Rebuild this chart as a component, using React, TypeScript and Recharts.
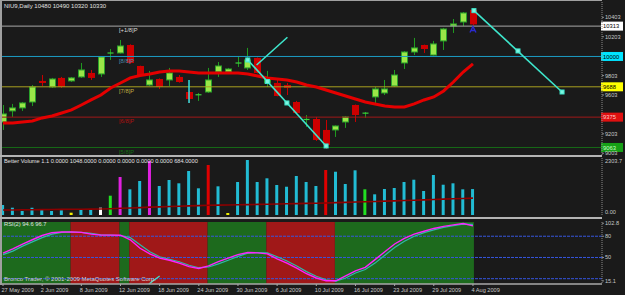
import React from 'react';
import { ComposedChart, Bar, Line, XAxis, YAxis, ReferenceLine, ReferenceArea, ReferenceDot, Cell } from 'recharts';

// ---------- data ----------
const dateLabels = ['27 May 2009', '2 Jun 2009', '8 Jun 2009', '12 Jun 2009', '18 Jun 2009', '24 Jun 2009', '30 Jun 2009', '6 Jul 2009', '10 Jul 2009', '16 Jul 2009', '23 Jul 2009', '29 Jul 2009', '4 Aug 2009'];
const dateTickBars = [0, 4, 8, 12, 16, 20, 24, 28, 32, 36, 40, 44, 48];

const opens = [9325, 9439, 9470, 9531, 9748, 9686, 9779, 9748, 9789, 9830, 9820, 10033, 10036, 10118, 9902, 9706, 9768, 9758, 9789, 9634, 9603, 9634, 9840, 9840, 9930, 9882, 9985, 9727, 9727, 9706, 9531, 9349, 9356, 9243, 9243, 9325, 9500, 9414, 9583, 9624, 9696, 9933, 10046, 10118, 10015, 10160, 10314, 10355, 10480];
const highs = [9500, 9511, 9531, 9706, 9809, 9779, 9789, 9789, 9933, 9861, 10005, 10077, 10170, 10125, 9905, 9851, 9775, 9882, 9809, 9645, 9624, 9882, 9943, 9882, 9995, 10088, 9990, 9851, 9758, 9727, 9542, 9397, 9377, 9346, 9290, 9387, 9505, 9428, 9686, 9758, 9861, 10056, 10191, 10122, 10160, 10294, 10386, 10458, 10490];
const lows = [9243, 9377, 9439, 9490, 9696, 9676, 9676, 9737, 9779, 9758, 9789, 9964, 10030, 9923, 9799, 9696, 9665, 9696, 9730, 9521, 9542, 9624, 9789, 9830, 9892, 9861, 9825, 9686, 9590, 9603, 9408, 9274, 9130, 9047, 9171, 9264, 9325, 9367, 9521, 9603, 9686, 9871, 10015, 10036, 10010, 10067, 10242, 10314, 10320];
const closes = [9408, 9470, 9521, 9686, 9727, 9768, 9686, 9779, 9861, 9779, 9995, 10038, 10108, 9933, 9809, 9758, 9686, 9830, 9737, 9562, 9608, 9758, 9902, 9871, 9935, 9964, 9830, 9779, 9593, 9676, 9418, 9353, 9140, 9088, 9284, 9377, 9397, 9418, 9665, 9665, 9809, 10046, 10088, 10077, 10129, 10283, 10335, 10448, 10330];
const maLine = [9315, 9315, 9325, 9336, 9367, 9387, 9418, 9449, 9500, 9552, 9603, 9676, 9727, 9779, 9804, 9820, 9840, 9851, 9851, 9840, 9830, 9830, 9830, 9830, 9830, 9820, 9799, 9779, 9768, 9758, 9737, 9706, 9686, 9655, 9624, 9593, 9562, 9531, 9511, 9490, 9480, 9480, 9511, 9552, 9583, 9645, 9737, 9840, 9923];

const volumes = [404, 295, 162, 295, 214, 162, 190, 93, 214, 214, 295, 780, 1535, 1038, 1374, 2182, 1172, 1414, 1281, 1778, 1079, 2020, 1159, 81, 1333, 2222, 1333, 1483, 1212, 1143, 1576, 1333, 1172, 1818, 1749, 1252, 1806, 1038, 836, 1050, 1091, 1333, 1426, 970, 1616, 1224, 1281, 1038, 1048];
const volumeKinds = ['c', 'c', 'c', 'c', 'c', 'c', 'c', 'y', 'c', 'c', 'w', 'g', 'm', 'c', 'c', 'm', 'c', 'c', 'c', 'c', 'c', 'r', 'c', 'y', 'c', 'c', 'c', 'c', 'c', 'c', 'c', 'c', 'c', 'r', 'c', 'c', 'c', 'g', 'c', 'c', 'c', 'c', 'c', 'c', 'c', 'c', 'c', 'c', 'c'];
const volumeAvg = [200, 205, 210, 213, 218, 222, 226, 230, 234, 238, 242, 255, 270, 285, 300, 318, 330, 342, 355, 368, 380, 392, 398, 405, 412, 420, 428, 436, 444, 452, 460, 468, 477, 488, 500, 512, 524, 536, 548, 560, 572, 585, 598, 612, 626, 640, 654, 668, 684];

const rsiMain = [56, 62, 69, 75, 81, 85, 86, 86, 85.5, 83, 81.5, 81.5, 81.4, 75, 63, 55, 49, 46, 42, 37, 34.5, 38, 44, 49, 54, 57, 56.5, 55, 48, 42, 35, 27, 21, 17, 17, 24, 31, 36, 47, 58, 69, 77, 83, 87, 91, 94, 96, 98, 94.6];
const rsiSignal = [54, 59, 66, 72, 78, 83, 85.5, 86, 85.5, 84, 82, 81.5, 81, 78, 68, 58, 51, 47.5, 44, 39, 35.5, 36.5, 41, 46, 51.5, 56, 57, 56.5, 51, 45, 38, 30, 23.5, 18.5, 16.5, 21, 28, 33, 42, 53, 64, 73, 80, 85, 89, 92.5, 95, 97, 96.7];
const rsiZone = ['G', 'G', 'G', 'G', 'G', 'G', 'G', 'R', 'R', 'R', 'R', 'R', 'G', 'R', 'R', 'R', 'R', 'R', 'R', 'R', 'R', 'G', 'G', 'G', 'G', 'G', 'G', 'R', 'R', 'R', 'R', 'R', 'R', 'R', 'G', 'G', 'G', 'G', 'G', 'G', 'G', 'G', 'G', 'G', 'G', 'G', 'G', 'G', 'G'];

const murreyLevels = [10312.5, 10000, 9687.5, 9375, 9062.5];
const murreyNames = ['[+1/8]P', '[8/8]P', '[7/8]P', '[6/8]P', '[5/8]P'];
const murreyBoxTexts = ['10313', '10000', '9688', '9375', '9063'];
const murreyLabelBar = 12;

const priceTicks = [10403, 10203, 9803, 9603, 9203, 9003];
const volumeTicks = [2182, 121];
const volumeTickLabels = ['2303.7', '0.00'];
const rsiTicks = [98.3, 80, 50, 16.9];
const rsiTickLabels = ['102.8', '80', '50', '15.1'];
const rsiLevels = [80, 50, 20];

const trendDown = [{ i: 25, p: 9964 }, { i: 27, p: 9742 }, { i: 29, p: 9521 }, { i: 33, p: 9078 }];
const trendUp = [{ i: 25.9, p: 9912 }, { i: 29.05, p: 10198 }];
const trendRight = [{ i: 48.1, p: 10472 }, { i: 52.6, p: 10057 }, { i: 57.1, p: 9634 }];
const cyanMark = [{ i: 19, p: 9758 }, { i: 19, p: 9521 }];
const arrowMark = { i: 48, p: 10278 };
const rsiTrendBit = [{ i: 14.9, r: 12.6 }, { i: 16.0, r: 23.8 }];

const titleText = 'NIU9,Daily  10480 10490 10320 10330';
const volumeTitle = 'Better Volume 1.1 0.0000 1048.0000 0.0000 0.0000 0.0000 0.0000 684.0000';
const rsiTitle = 'RSI(2) 94.6 96.7';
const copyright = 'Bronco Trader, \u00a9 2001-2009 MetaQuotes Software Corp.';

// ---------- styles ----------
const W = 625;
const H = 295;
const BG = '#1a1a1a';
const FONT = "'Liberation Sans', Arial, sans-serif";
const AXIS_TXT = '#c8c8c8';
const X_DOMAIN: [number, number] = [-0.306, 61.18];
const levelLineColors = ['#a8a8a8', '#1c9cc4', '#a8a020', '#a01818', '#176a17'];
const levelNameColors = ['#d8d8d8', '#4f8fb0', '#c0b040', '#b01010', '#127012'];
const boxBg = ['#ffffff', '#00e4ff', '#ffff00', '#e01010', '#16a016'];
const boxFg = ['#000000', '#000000', '#000000', '#ffc8c8', '#c8ffc8'];
const volColorMap: Record<string, string> = { c: '#22bcd4', y: '#f0f000', w: '#ffffff', g: '#22e022', m: '#e020e0', r: '#e00000' };
const TREND = '#3ee6cc';

const Candle = (props: any) => {
  const { x, y, width, height, payload } = props;
  if (!payload) return null;
  const top = Math.min(y, y + height);
  const hPx = Math.abs(height);
  const { o, h, l, c } = payload;
  const span = h - l || 1;
  const py = (v: number) => top + ((h - v) / span) * hPx;
  const cx = Math.round(x + width / 2) + 0.5;
  const up = c >= o;
  const bt = py(Math.max(o, c));
  const bb = py(Math.min(o, c));
  const wick = up ? '#1f9a1f' : '#c80000';
  const bw = 6;
  return (
    <g>
      <line x1={cx} x2={cx} y1={top} y2={top + hPx} stroke={wick} strokeWidth={1} />
      {bb - bt < 1.5 ? (
        <line x1={cx - bw / 2} x2={cx + bw / 2} y1={(bt + bb) / 2} y2={(bt + bb) / 2} stroke={up ? '#3ad23a' : '#d00000'} strokeWidth={1.2} />
      ) : up ? (
        <rect x={cx - bw / 2} y={bt} width={bw} height={bb - bt} fill="#9ae648" stroke="#2aa02a" strokeWidth={1} />
      ) : (
        <rect x={cx - bw / 2 - 0.5} y={bt} width={bw + 1} height={bb - bt} fill="#cc0000" />
      )}
    </g>
  );
};

const mkRightTick = (labels?: string[], values?: number[]) => (props: any) => {
  const { x, y, payload } = props;
  const txt = labels && values ? labels[values.indexOf(payload.value)] : String(payload.value);
  return (
    <text x={x} y={y} fill={AXIS_TXT} fontSize={5.6} fontFamily={FONT} textAnchor="start" dominantBaseline="central">
      {txt}
    </text>
  );
};

const DateTick = (props: any) => {
  const { x, y, payload } = props;
  return (
    <text x={x - 1.5} y={y + 2} fill={AXIS_TXT} fontSize={5.6} fontFamily={FONT} textAnchor="start" dominantBaseline="central">
      {dateLabels[dateTickBars.indexOf(payload.value)]}
    </text>
  );
};

const SquareDot = (props: any) => (
  <rect x={props.cx - 2} y={props.cy - 2} width={4} height={4} fill="#7ff5e0" stroke={TREND} strokeWidth={1} />
);

const textStyle = (left: number, top: number, size: number, color: string): React.CSSProperties => ({
  position: 'absolute',
  left,
  top,
  fontSize: size,
  lineHeight: `${size}px`,
  color,
  fontFamily: FONT,
  whiteSpace: 'nowrap',
});

export default function App() {
  const rows = opens.map((o, i) => ({
    i,
    o,
    h: highs[i],
    l: lows[i],
    c: closes[i],
    ma: maLine[i],
    v: volumes[i],
    va: volumeAvg[i],
    r1: rsiMain[i],
    r2: rsiSignal[i],
  }));

  const lastIdx = rows.length - 1;
  const runs: { s: string; start: number; end: number }[] = [];
  rsiZone.forEach((s, i) => {
    const last = runs[runs.length - 1];
    if (last && last.s === s) last.end = i;
    else runs.push({ s, start: i, end: i });
  });

  const sep = (top: number): React.CSSProperties => ({ position: 'absolute', left: 0, top, width: 602, height: 2, background: '#b4b4b4' });
  const layer: React.CSSProperties = { position: 'absolute', left: 0, top: 0 };

  return (
    <div style={{ position: 'absolute', left: 0, top: 0, width: W, height: H, background: BG, overflow: 'hidden' }}>
      {/* RSI panel */}
      <div style={layer}>
        <ComposedChart width={W} height={H} data={rows} margin={{ top: 222, right: 0, bottom: 0, left: 0 }}>
          <XAxis
            dataKey="i"
            type="number"
            domain={X_DOMAIN}
            allowDataOverflow
            ticks={dateTickBars}
            interval={0}
            height={11}
            tick={<DateTick />}
            tickSize={2}
            tickMargin={2}
            axisLine={{ stroke: '#a8a8a8', strokeWidth: 1.5 }}
            tickLine={{ stroke: '#a8a8a8' }}
          />
          <YAxis
            orientation="right"
            width={23}
            domain={[12.5, 100.1]}
            allowDataOverflow
            ticks={rsiTicks}
            interval={0}
            tick={mkRightTick(rsiTickLabels, rsiTicks)}
            tickSize={2}
            tickMargin={1}
            axisLine={{ stroke: '#8a8a8a', strokeDasharray: '1 1' }}
            tickLine={{ stroke: '#8a8a8a' }}
          />
          {runs.map((r, k) => (
            <ReferenceArea
              key={'z' + k}
              x1={r.start - 0.1}
              x2={r.end === lastIdx ? r.end + 0.1 : r.end + 0.9}
              y1={12.5}
              y2={100.1}
              fill={r.s === 'G' ? '#1d6a1d' : '#a01818'}
              fillOpacity={1}
              stroke="none"
              ifOverflow="hidden"
            />
          ))}
          {rsiLevels.map((lv) => (
            <ReferenceLine key={'rl' + lv} y={lv} stroke="#3656e0" strokeWidth={1} strokeDasharray="3 1" />
          ))}
          <ReferenceLine segment={rsiTrendBit.map((p) => ({ x: p.i, y: p.r }))} stroke={TREND} strokeWidth={1.2} ifOverflow="visible" />
          <Line dataKey="r2" stroke="#2fb8a8" strokeWidth={1.2} dot={false} isAnimationActive={false} type="linear" />
          <Line dataKey="r1" stroke="#ff22ff" strokeWidth={1.4} dot={false} isAnimationActive={false} type="linear" />
        </ComposedChart>
      </div>

      {/* Volume panel */}
      <div style={layer}>
        <ComposedChart width={W} height={H} data={rows} margin={{ top: 158, right: 0, bottom: 80, left: 0 }}>
          <XAxis dataKey="i" type="number" domain={X_DOMAIN} allowDataOverflow hide />
          <YAxis
            orientation="right"
            width={23}
            domain={[0, 2303.7]}
            allowDataOverflow
            ticks={volumeTicks}
            interval={0}
            tick={mkRightTick(volumeTickLabels, volumeTicks)}
            tickSize={2}
            tickMargin={1}
            axisLine={{ stroke: '#8a8a8a', strokeDasharray: '1 1' }}
            tickLine={false}
          />
          <Bar dataKey="v" barSize={3} isAnimationActive={false}>
            {rows.map((r, k) => (
              <Cell key={'vc' + k} fill={volColorMap[volumeKinds[k]]} />
            ))}
          </Bar>
          <Line dataKey="va" stroke="#8c0000" strokeWidth={1.6} dot={false} isAnimationActive={false} type="linear" />
        </ComposedChart>
      </div>

      {/* Main price panel */}
      <div style={layer}>
        <ComposedChart width={W} height={H} data={rows} margin={{ top: 2, right: 0, bottom: 140, left: 0 }}>
          <XAxis dataKey="i" type="number" domain={X_DOMAIN} allowDataOverflow hide />
          <YAxis
            orientation="right"
            width={23}
            domain={[8985, 10561]}
            allowDataOverflow
            ticks={priceTicks}
            interval={0}
            tick={mkRightTick()}
            tickSize={2}
            tickMargin={1}
            axisLine={{ stroke: '#8a8a8a', strokeDasharray: '1 1' }}
            tickLine={{ stroke: '#8a8a8a' }}
          />
          {murreyLevels.map((lv, k) => (
            <ReferenceLine
              key={'ml' + k}
              y={lv}
              stroke={levelLineColors[k]}
              strokeWidth={1}
              ifOverflow="visible"
              label={(p: any) => {
                const vb = p.viewBox || {};
                const right = (vb.x || 0) + (vb.width || 0);
                return (
                  <g>
                    <rect x={right - 1} y={vb.y - 4.5} width={22} height={9} fill={boxBg[k]} />
                    <text x={right + 1} y={vb.y + 0.3} fill={boxFg[k]} fontSize={5.8} fontFamily={FONT} dominantBaseline="central">
                      {murreyBoxTexts[k]}
                    </text>
                  </g>
                );
              }}
            />
          ))}
          {murreyLevels.map((lv, k) => (
            <ReferenceDot
              key={'mn' + k}
              x={murreyLabelBar}
              y={lv}
              r={1}
              ifOverflow="visible"
              shape={(p: any) => (
                <text x={p.cx - 1.5} y={p.cy + 4.2} fill={levelNameColors[k]} fontSize={5.8} fontFamily={FONT} dominantBaseline="central">
                  {murreyNames[k]}
                </text>
              )}
            />
          ))}
          <Line dataKey="ma" stroke="#e40000" strokeWidth={3} dot={false} isAnimationActive={false} type="linear" />
          <Bar dataKey={(d: any) => [d.l, d.h]} barSize={7} shape={<Candle />} isAnimationActive={false} />
          <ReferenceLine segment={cyanMark.map((p) => ({ x: p.i, y: p.p }))} stroke="#30e4e4" strokeWidth={1.5} />
          <ReferenceLine segment={[{ x: trendDown[0].i, y: trendDown[0].p }, { x: trendDown[3].i, y: trendDown[3].p }]} stroke={TREND} strokeWidth={1.6} />
          <ReferenceLine segment={trendUp.map((p) => ({ x: p.i, y: p.p }))} stroke={TREND} strokeWidth={1.6} />
          <ReferenceLine segment={[{ x: trendRight[0].i, y: trendRight[0].p }, { x: trendRight[2].i, y: trendRight[2].p }]} stroke={TREND} strokeWidth={1.6} />
          {trendDown.concat(trendRight).map((p, k) => (
            <ReferenceDot key={'td' + k} x={p.i} y={p.p} r={2} shape={<SquareDot />} />
          ))}
          <ReferenceDot
            x={arrowMark.i}
            y={arrowMark.p}
            r={3}
            shape={(p: any) => (
              <path
                d={`M${p.cx - 3},${p.cy + 3} L${p.cx},${p.cy - 3} L${p.cx + 3},${p.cy + 3} M${p.cx - 1.5},${p.cy + 1} L${p.cx + 1.5},${p.cy + 1}`}
                stroke="#2a2ad0"
                strokeWidth={1.4}
                fill="none"
              />
            )}
          />
        </ComposedChart>
      </div>

      {/* frame & separators */}
      <div style={{ position: 'absolute', left: 0, top: 0, width: 602, height: 1, background: '#a0a0a0' }} />
      <div style={{ position: 'absolute', left: 0, top: 0, width: 1.5, height: 285, background: '#a0a0a0' }} />
      <div style={sep(155)} />
      <div style={sep(217)} />

      {/* texts */}
      <div style={textStyle(4, 3, 6, '#e0e0e0')}>{titleText}</div>
      <div style={textStyle(4, 159, 5.7, '#e0e0e0')}>{volumeTitle}</div>
      <div style={textStyle(4, 222, 5.8, '#e0e0e0')}>{rsiTitle}</div>
      <div style={textStyle(4, 276, 6, '#d0d0d0')}>{copyright}</div>
    </div>
  );
}
